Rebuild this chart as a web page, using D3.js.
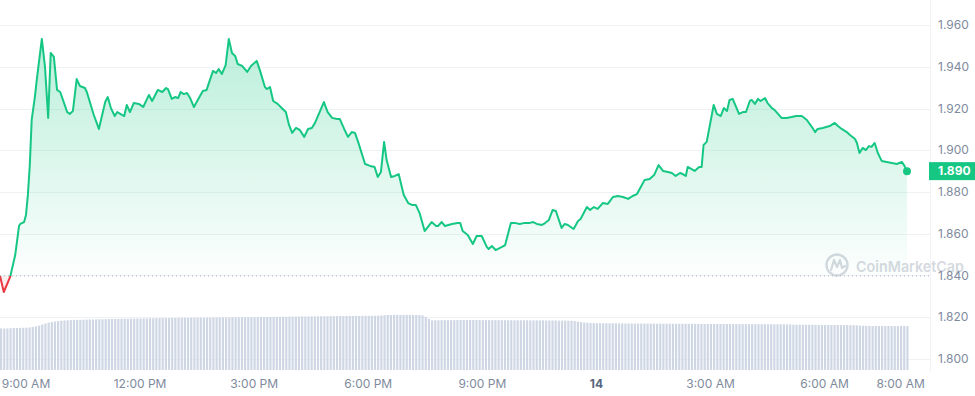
<!DOCTYPE html>
<html>
<head>
<meta charset="utf-8">
<script src="https://cdn.jsdelivr.net/npm/d3@7/dist/d3.min.js"></script>
<style>
body { margin: 0; background: #fff; }
text { font-family: Inter, "Noto Sans", sans-serif; }
</style>
</head>
<body>
<div id="chart"></div>
<script>
// price series, minutes after the first point
var startTime = "13 08:19";
var priceMinutes = [0,6,16,24,30,32,38,41,44,47,
  50,55,58,66,71,76,80,85,90,95,
  106,110,115,121,126,134,137,148,156,166,
  170,175,181,185,196,200,205,211,219,226,
  235,240,249,256,262,265,271,276,281,285,
  290,295,300,306,312,320,326,336,341,345,
  350,356,361,366,371,375,382,390,396,405,
  410,418,421,426,431,438,446,451,456,461,
  467,473,480,486,492,497,511,517,524,532,
  536,543,549,555,560,565,576,584,591,596,
  601,606,610,617,623,629,637,644,650,656,
  662,670,681,688,691,697,702,713,722,726,
  730,738,746,752,760,768,771,776,782,792,
  797,806,812,820,828,836,841,847,855,858,
  866,872,877,886,891,896,905,912,916,926,
  931,937,943,951,959,967,975,983,991,998,
  1005,1011,1017,1025,1032,1039,1046,1054,1060,1066,
  1073,1077,1082,1085,1096,1103,1107,1110,1115,1126,
  1131,1137,1142,1147,1151,1156,1166,1172,1177,1183,
  1186,1191,1196,1200,1207,1211,1218,1222,1233,1241,
  1249,1256,1265,1273,1281,1286,1290,1298,1309,1317,
  1322,1328,1336,1341,1349,1352,1356,1361,1366,1371,
  1375,1380,1385,1391,1399,1407,1415,1423,1427,1431];
var prices = [1.8398,1.8321,1.8393,1.8498,1.8637,1.8647,1.8656,1.8690,1.8786,1.8929,
  1.9145,1.9255,1.9337,1.9533,1.9399,1.9155,1.9466,1.9447,1.9289,1.9279,
  1.9183,1.9174,1.9188,1.9341,1.9308,1.9298,1.9279,1.9169,1.9102,1.9231,
  1.9255,1.9202,1.9164,1.9183,1.9164,1.9217,1.9183,1.9226,1.9222,1.9207,
  1.9265,1.9236,1.9289,1.9279,1.9298,1.9293,1.9246,1.9255,1.9250,1.9279,
  1.9269,1.9274,1.9250,1.9207,1.9241,1.9284,1.9289,1.9380,1.9370,1.9389,
  1.9365,1.9408,1.9533,1.9466,1.9452,1.9413,1.9404,1.9375,1.9404,1.9428,
  1.9384,1.9303,1.9293,1.9303,1.9236,1.9222,1.9198,1.9183,1.9121,1.9083,
  1.9107,1.9097,1.9064,1.9102,1.9107,1.9131,1.9231,1.9183,1.9155,1.9150,
  1.9150,1.9102,1.9064,1.9087,1.9083,1.9040,1.8934,1.8925,1.8920,1.8872,
  1.8896,1.9040,1.8953,1.8872,1.8877,1.8886,1.8786,1.8747,1.8738,1.8738,
  1.8699,1.8613,1.8656,1.8637,1.8637,1.8656,1.8637,1.8647,1.8652,1.8652,
  1.8613,1.8594,1.8551,1.8589,1.8589,1.8537,1.8527,1.8541,1.8522,1.8537,
  1.8546,1.8652,1.8652,1.8647,1.8652,1.8652,1.8656,1.8647,1.8642,1.8647,
  1.8666,1.8714,1.8709,1.8628,1.8647,1.8642,1.8623,1.8661,1.8671,1.8728,
  1.8714,1.8728,1.8719,1.8747,1.8743,1.8776,1.8781,1.8776,1.8767,1.8781,
  1.8790,1.8824,1.8858,1.8862,1.8881,1.8929,1.8901,1.8896,1.8891,1.8877,
  1.8891,1.8886,1.8877,1.8920,1.8901,1.8920,1.8920,1.9025,1.9040,1.9217,
  1.9174,1.9164,1.9202,1.9188,1.9241,1.9246,1.9174,1.9183,1.9183,1.9236,
  1.9241,1.9222,1.9246,1.9236,1.9250,1.9226,1.9202,1.9193,1.9155,1.9155,
  1.9159,1.9164,1.9164,1.9145,1.9111,1.9087,1.9102,1.9107,1.9116,1.9131,
  1.9116,1.9102,1.9087,1.9073,1.9054,1.9035,1.8987,1.9011,1.9001,1.9020,
  1.9016,1.9035,1.8987,1.8949,1.8944,1.8939,1.8934,1.8944,1.8925,1.8900];
var openPrice = 1.8398;
var lastPrice = 1.890;

// volume bars, one every 5 minutes from startTime
var volumeStep = 5;
var volumes = [41.5,41.5,41.6,41.8,42,42,42.1,42.2,42.3,42.6,
  43,43.6,44.4,45.4,46.4,47.3,48,48.5,48.9,49.3,
  49.5,49.7,49.9,50,50.1,50.2,50.3,50.4,50.5,50.6,
  50.6,50.7,50.7,50.8,50.9,51,51,51.1,51.2,51.3,
  51.3,51.4,51.4,51.5,51.5,51.6,51.6,51.7,51.7,51.8,
  51.8,51.9,51.9,52,52,52,52.1,52.1,52.2,52.2,
  52.2,52.3,52.3,52.3,52.4,52.4,52.4,52.5,52.5,52.5,
  52.6,52.6,52.6,52.7,52.7,52.7,52.7,52.8,52.8,52.8,
  52.9,52.9,53,53,53,53.1,53.1,53.2,53.2,53.2,
  53.3,53.3,53.4,53.4,53.4,53.5,53.5,53.5,53.6,53.6,
  53.6,53.7,53.7,53.8,53.8,53.8,53.9,53.9,53.9,54,
  54,54,54.1,54.1,54.1,54.2,54.2,54.2,54.3,54.4,
  54.6,54.8,55,55,55.1,55.1,55.1,55.1,55.1,55.1,
  55,55,55,54.6,53.2,51.2,49.6,49.8,49.8,49.8,
  49.9,49.9,49.9,49.9,50,50,50,50,50,50,
  49.9,49.9,49.9,49.9,49.9,49.9,49.8,49.8,49.8,49.8,
  49.8,49.8,49.7,49.7,49.7,49.7,49.7,49.6,49.6,49.6,
  49.6,49.6,49.5,49.5,49.5,49.5,49.4,49.4,49.4,49.3,
  49.2,48.9,48.4,47.9,47.5,47.2,47,46.9,46.8,46.8,
  46.7,46.7,46.7,46.6,46.6,46.6,46.6,46.5,46.5,46.5,
  46.5,46.5,46.4,46.4,46.4,46.4,46.4,46.3,46.3,46.3,
  46.3,46.3,46.3,46.2,46.2,46.2,46.2,46.2,46.1,46.1,
  46.1,46.1,46.1,46,46,46,46,46,46,46,
  46,45.9,45.9,45.9,45.9,45.9,45.9,45.8,45.8,45.8,
  45.8,45.8,45.8,45.8,45.7,45.7,45.7,45.7,45.6,45.6,
  45.4,45.3,45.3,45.3,45.2,45.2,45.2,45.2,45.1,45.1,
  45.1,45.1,45,45,45,45,44.9,44.9,44.9,44.8,
  44.6,44.4,44.2,44.1,44.1,44,44,44,44,44,
  44,43.9,43.9,43.9,43.9,43.9,43.9];

var yTicks = [1.80, 1.82, 1.84, 1.86, 1.88, 1.90, 1.92, 1.94, 1.96];
var xTickTimes = ["13 09:00", "13 12:00", "13 15:00", "13 18:00", "13 21:00", "14 00:00", "14 03:00", "14 06:00", "14 08:00"];
var xTickLabels = ["9:00 AM", "12:00 PM", "3:00 PM", "6:00 PM", "9:00 PM", "14", "3:00 AM", "6:00 AM", "8:00 AM"];
var watermark = "CoinMarketCap";

var width = 975, height = 396;
var green = "#16c784", red = "#ea3943";
var parseTime = d3.timeParse("%d %H:%M");
var t0 = parseTime(startTime);

var data = priceMinutes.map(function(m, i) {
  return {time: d3.timeMinute.offset(t0, m), price: prices[i]};
});

var x = d3.scaleTime()
  .domain([t0, d3.timeMinute.offset(t0, priceMinutes[priceMinutes.length - 1])])
  .range([0, 907]);
var y = d3.scaleLinear().domain([1.80, 1.96]).range([359, 25]);
var yVol = d3.scaleLinear().domain([0, 70]).range([370, 300]);
var gridRight = 930;

var svg = d3.select("#chart").append("svg")
  .attr("width", width)
  .attr("height", height);

var defs = svg.append("defs");
var grad = defs.append("linearGradient")
  .attr("id", "greenFill")
  .attr("gradientUnits", "userSpaceOnUse")
  .attr("x1", 0).attr("x2", 0)
  .attr("y1", y(1.955)).attr("y2", y(openPrice));
grad.append("stop").attr("offset", 0).attr("stop-color", green).attr("stop-opacity", 0.3);
grad.append("stop").attr("offset", 1).attr("stop-color", green).attr("stop-opacity", 0.01);

var baseY = y(openPrice);
defs.append("clipPath").attr("id", "above")
  .append("rect").attr("x", 0).attr("y", 0).attr("width", width).attr("height", baseY);
defs.append("clipPath").attr("id", "below")
  .append("rect").attr("x", 0).attr("y", baseY).attr("width", width).attr("height", height - baseY);

// grid
svg.append("g").selectAll("line")
  .data(yTicks)
  .join("line")
  .attr("x1", 0).attr("x2", gridRight)
  .attr("y1", function(d) { return Math.round(y(d)) + 0.5; })
  .attr("y2", function(d) { return Math.round(y(d)) + 0.5; })
  .attr("stroke", "#eff2f5");
svg.append("line")
  .attr("x1", gridRight + 0.5).attr("x2", gridRight + 0.5)
  .attr("y1", 0).attr("y2", 372)
  .attr("stroke", "#f1f3f6");

// volume bars
var barW = x(d3.timeMinute.offset(t0, volumeStep)) - x(t0);
svg.append("g").selectAll("rect")
  .data(volumes)
  .join("rect")
  .attr("x", function(d, i) { return x(d3.timeMinute.offset(t0, i * volumeStep)); })
  .attr("y", function(d) { return yVol(d); })
  .attr("width", barW - 1)
  .attr("height", function(d) { return yVol(0) - yVol(d); })
  .attr("fill", "#cfd6e4");

// watermark
var wm = svg.append("g").attr("fill", "none").attr("stroke", "#d5d9e0");
wm.append("circle").attr("cx", 837).attr("cy", 265).attr("r", 10.5).attr("stroke-width", 2.4);
wm.append("path")
  .attr("d", "M831,270 L834,260 L837,267 L840,260 L842,268 L845,266")
  .attr("stroke-width", 2.2).attr("stroke-linejoin", "round").attr("stroke-linecap", "round");
svg.append("text")
  .text(watermark)
  .attr("x", 856).attr("y", 272)
  .attr("font-size", 15)
  .attr("font-weight", 600)
  .attr("textLength", 108)
  .attr("lengthAdjust", "spacingAndGlyphs")
  .attr("fill", "#d5d9e0");

// area + line
var area = d3.area()
  .x(function(d) { return x(d.time); })
  .y0(baseY)
  .y1(function(d) { return y(d.price); });
var line = d3.line()
  .x(function(d) { return x(d.time); })
  .y(function(d) { return y(d.price); });

svg.append("path").datum(data)
  .attr("d", area)
  .attr("fill", "url(#greenFill)")
  .attr("clip-path", "url(#above)");
svg.append("path").datum(data)
  .attr("d", area)
  .attr("fill", red).attr("fill-opacity", 0.08)
  .attr("clip-path", "url(#below)");

// open price reference
svg.append("line")
  .attr("x1", 0).attr("x2", gridRight)
  .attr("y1", baseY).attr("y2", baseY)
  .attr("stroke", "#a7b1c2")
  .attr("stroke-width", 1)
  .attr("stroke-dasharray", "1,3");

svg.append("path").datum(data)
  .attr("d", line)
  .attr("fill", "none").attr("stroke", green).attr("stroke-width", 2)
  .attr("stroke-linejoin", "round")
  .attr("clip-path", "url(#above)");
svg.append("path").datum(data)
  .attr("d", line)
  .attr("fill", "none").attr("stroke", red).attr("stroke-width", 2)
  .attr("stroke-linejoin", "round")
  .attr("clip-path", "url(#below)");

var last = data[data.length - 1];
svg.append("circle")
  .attr("cx", x(last.time)).attr("cy", y(last.price))
  .attr("r", 4).attr("fill", green);

// y axis labels
svg.append("g").selectAll("text")
  .data(yTicks)
  .join("text")
  .text(function(d) { return d3.format(".3f")(d); })
  .attr("x", 938)
  .attr("y", function(d) { return y(d); })
  .attr("dy", "0.35em")
  .attr("font-size", 12)
  .attr("fill", "#808a9d");

// last price tag
svg.append("rect")
  .attr("x", 929).attr("y", y(lastPrice) - 9)
  .attr("width", 46).attr("height", 18)
  .attr("fill", green);
svg.append("text")
  .text(d3.format(".3f")(lastPrice))
  .attr("x", 938).attr("y", y(lastPrice))
  .attr("dy", "0.35em")
  .attr("font-size", 12)
  .attr("font-weight", 700)
  .attr("fill", "#fff");

// x axis labels
svg.append("g").selectAll("text")
  .data(xTickTimes)
  .join("text")
  .text(function(d, i) { return xTickLabels[i]; })
  .attr("x", function(d) { return x(parseTime(d)); })
  .attr("y", 388)
  .attr("text-anchor", "middle")
  .attr("font-size", 12)
  .attr("font-weight", function(d, i) { return xTickLabels[i] == "14" ? 700 : 400; })
  .attr("fill", function(d, i) { return xTickLabels[i] == "14" ? "#58667e" : "#808a9d"; });
</script>
</body>
</html>
